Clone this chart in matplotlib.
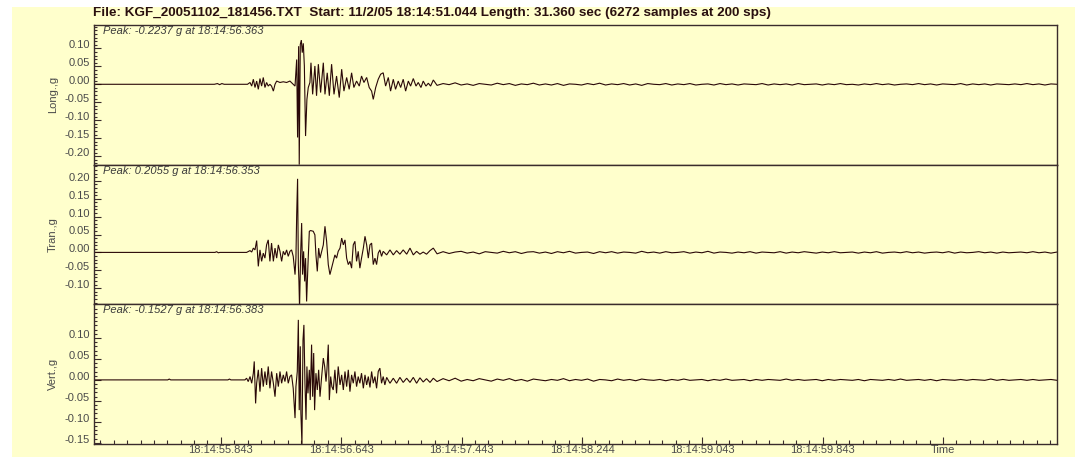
import numpy as np
import matplotlib
matplotlib.use("Agg")
import matplotlib.pyplot as plt
from matplotlib.ticker import FixedLocator, MultipleLocator
from matplotlib.patches import Rectangle

plt.rcParams["font.family"] = ["Liberation Sans", "DejaVu Sans"]

TITLE = ("File: KGF_20051102_181456.TXT  Start: 11/2/05 18:14:51.044 "
         "Length: 31.360 sec (6272 samples at 200 sps)")
CHANNELS = ["Long.,g", "Tran.,g", "Vert.,g"]
PEAK_TEXT = ["Peak: -0.2237 g at 18:14:56.363",
             "Peak: 0.2055 g at 18:14:56.353",
             "Peak: -0.1527 g at 18:14:56.383"]

# time axis: seconds after 18:14:55.000
TIME_TICKS = [0.843, 1.643, 2.443, 3.244, 4.043, 4.843, 5.643]
TIME_LABELS = ["18:14:55.843", "18:14:56.643", "18:14:57.443", "18:14:58.244",
               "18:14:59.043", "18:14:59.843", "Time"]
WINDOW = (0.0, 6.4)

Y_TICKS = [[-0.20, -0.15, -0.10, -0.05, 0.00, 0.05, 0.10],
           [-0.10, -0.05, 0.00, 0.05, 0.10, 0.15, 0.20],
           [-0.15, -0.10, -0.05, 0.00, 0.05, 0.10]]
Y_LIMITS = [(-0.2237, 0.165), (-0.145, 0.245), (-0.1527, 0.18)]

# ---- Long component: strong-motion vertices (s, g) ----
LONG_T = [0.0, 0.80, 0.82, 0.835, 0.85, 0.865, 1.02,
          1.037, 1.048, 1.059, 1.070, 1.081, 1.092, 1.103, 1.114, 1.125, 1.136,
          1.147, 1.158, 1.169, 1.180, 1.192, 1.203, 1.214, 1.236, 1.258, 1.280,
          1.302, 1.324, 1.336, 1.347, 1.353, 1.360, 1.364, 1.371, 1.378, 1.384,
          1.391, 1.398, 1.406, 1.415, 1.424, 1.435, 1.442, 1.453, 1.468, 1.479,
          1.491, 1.506, 1.524, 1.535, 1.550, 1.564, 1.579, 1.595, 1.612, 1.630,
          1.646, 1.661, 1.679, 1.696, 1.712, 1.727, 1.745, 1.763, 1.778, 1.794,
          1.812, 1.829, 1.845, 1.856, 1.872, 1.889, 1.905, 1.922, 1.938, 1.956,
          1.971, 1.989, 2.004, 2.022, 2.038, 2.055, 2.071, 2.089, 2.104, 2.122,
          2.140, 2.155, 2.173, 2.188, 2.206, 2.222, 2.237, 2.255]
LONG_G = [0.0, 0.0, 0.002, -0.001, 0.002, 0.0, 0.0,
          0.005, -0.005, 0.014, -0.009, 0.009, -0.014, 0.016, -0.005, 0.019, -0.009,
          0.005, -0.005, 0.0, -0.005, -0.019, 0.0, 0.009, 0.005, 0.007, 0.005,
          0.009, 0.0, -0.005, 0.069, -0.148, 0.106, -0.2237, 0.111, 0.123, 0.088,
          0.114, 0.051, -0.144, -0.042, -0.009, 0.005, 0.060, -0.028, 0.051, -0.032,
          0.056, -0.023, 0.060, -0.028, 0.032, -0.032, 0.056, -0.028, 0.023, -0.037,
          0.042, -0.019, 0.019, -0.014, 0.032, -0.009, 0.009, -0.005, 0.023, 0.005,
          0.019, -0.009, -0.019, -0.042, -0.009, 0.014, 0.028, 0.032, -0.005, 0.019,
          -0.019, 0.014, -0.014, 0.009, -0.009, 0.014, -0.019, 0.009, -0.005, 0.016,
          -0.005, 0.005, -0.009, 0.009, -0.005, 0.003, -0.005, 0.012]

# ---- Tran component ----
TRAN_T = [0.0, 0.804, 0.815, 0.826, 0.837, 1.014,
          1.037, 1.048, 1.059, 1.070, 1.081, 1.092, 1.103, 1.114, 1.125, 1.136,
          1.147, 1.158, 1.169, 1.180, 1.192, 1.203, 1.214, 1.225, 1.236, 1.247,
          1.258, 1.269, 1.280, 1.291, 1.302, 1.313, 1.324, 1.336, 1.342, 1.347,
          1.353, 1.358, 1.362, 1.366, 1.373, 1.380, 1.386, 1.393, 1.400, 1.406,
          1.413, 1.422, 1.431, 1.440, 1.457, 1.468, 1.475, 1.484, 1.493, 1.502,
          1.513, 1.524, 1.535, 1.546, 1.557, 1.568, 1.579, 1.590, 1.601, 1.612,
          1.623, 1.635, 1.646, 1.657, 1.668, 1.679, 1.690, 1.701, 1.712, 1.723,
          1.734, 1.745, 1.756, 1.767, 1.778, 1.790, 1.801, 1.812, 1.823, 1.834,
          1.845, 1.856, 1.867, 1.878, 1.889, 1.900, 1.911, 1.922, 1.945, 1.967,
          1.989, 2.011, 2.033, 2.055, 2.078, 2.100, 2.122, 2.144, 2.166, 2.188,
          2.210, 2.233, 2.255]
TRAN_G = [0.0, 0.0, 0.002, -0.001, 0.0, 0.0,
          0.005, 0.001, 0.012, 0.007, 0.033, -0.039, 0.007, -0.025, -0.002, -0.016,
          0.021, 0.035, -0.025, 0.026, -0.025, 0.012, -0.016, 0.021, 0.003, -0.025,
          0.003, -0.007, 0.007, -0.011, 0.003, 0.007, -0.011, -0.062, -0.016, 0.105,
          0.2055, -0.034, -0.081, -0.155, -0.007, 0.082, -0.062, 0.003, -0.081, -0.016,
          -0.137, -0.034, 0.059, 0.061, 0.059, 0.049, -0.007, -0.053, 0.012, -0.016,
          0.003, 0.021, 0.073, 0.031, -0.034, -0.062, -0.044, -0.025, -0.007, -0.016,
          0.003, 0.012, 0.040, 0.021, 0.035, -0.016, -0.034, -0.025, -0.044, 0.021,
          0.031, -0.025, 0.003, -0.044, -0.016, 0.012, 0.045, 0.021, -0.016, 0.021,
          0.026, -0.034, -0.016, -0.034, -0.002, 0.007, -0.011, 0.003, -0.007, 0.007,
          -0.007, 0.005, -0.005, 0.007, -0.005, 0.012, -0.007, 0.003, -0.005, 0.001,
          -0.005, 0.005, 0.012]

# ---- Vert component ----
VERT_T = [0.0, 0.49, 0.50, 0.51, 0.89, 0.90, 0.91, 1.003,
          1.014, 1.025, 1.037, 1.048, 1.059, 1.065, 1.074, 1.081, 1.092, 1.103,
          1.114, 1.125, 1.136, 1.147, 1.158, 1.169, 1.180, 1.192, 1.203, 1.214,
          1.225, 1.236, 1.247, 1.258, 1.269, 1.280, 1.291, 1.302, 1.313, 1.324,
          1.336, 1.342, 1.351, 1.358, 1.364, 1.371, 1.375, 1.382, 1.389, 1.395,
          1.402, 1.409, 1.415, 1.422, 1.431, 1.437, 1.446, 1.453, 1.460, 1.466,
          1.475, 1.484, 1.493, 1.502, 1.513, 1.524, 1.533, 1.542, 1.548, 1.557,
          1.564, 1.573, 1.581, 1.590, 1.601, 1.612, 1.623, 1.635, 1.646, 1.657,
          1.668, 1.679, 1.690, 1.701, 1.712, 1.723, 1.734, 1.745, 1.756, 1.767,
          1.778, 1.790, 1.801, 1.812, 1.823, 1.834, 1.845, 1.856, 1.867, 1.878,
          1.889, 1.900, 1.911, 1.922, 1.933, 1.945, 1.967, 1.989, 2.011, 2.033,
          2.055, 2.078, 2.100, 2.122, 2.144, 2.166, 2.188, 2.210, 2.233, 2.255]
VERT_G = [0.0, 0.0, 0.002, 0.0, 0.0, 0.002, 0.0, 0.0,
          0.004, -0.004, 0.008, -0.008, 0.016, 0.044, -0.056, -0.008, 0.024, -0.028,
          0.028, -0.016, 0.020, -0.012, 0.032, -0.020, 0.020, -0.008, -0.040, 0.016,
          -0.016, 0.020, -0.008, 0.012, -0.004, 0.020, -0.008, 0.008, 0.012, -0.020,
          -0.091, -0.016, 0.020, 0.143, -0.072, 0.080, -0.080, -0.1527, 0.095, 0.131,
          -0.008, -0.095, 0.032, -0.032, 0.024, -0.048, 0.084, -0.040, 0.064, -0.072,
          0.016, -0.024, 0.024, -0.040, 0.008, 0.052, 0.032, -0.004, 0.024, 0.084,
          -0.048, 0.008, -0.016, -0.024, 0.024, -0.032, 0.032, -0.012, 0.012, -0.024,
          0.020, -0.016, 0.024, -0.028, 0.012, -0.008, 0.020, -0.016, 0.008, -0.008,
          0.016, -0.020, 0.012, -0.012, 0.008, -0.018, 0.020, -0.008, 0.008, -0.020,
          0.020, 0.028, -0.008, 0.008, -0.012, 0.006, -0.008, 0.004, -0.008, 0.006,
          -0.006, 0.004, -0.006, 0.006, -0.008, 0.005, -0.005, 0.003, -0.006, 0.004]

# ---- coda: samples every 0.04 s from 2.28 s, in milli-g ----
CODA_START = 2.28
CODA_STEP = 0.04
LONG_CODA_MG = [-3, 2, -1, 4, -2, 1, -3, 2, 0, -2,
                3, -1, 2, -3, 1, -1, 3, -2, 1, -2,
                2, -3, 1, 0, -2, 2, -1, 3, -2, 1,
                -1, 2, -2, 1, -3, 2, 0, -1, 2, -2,
                1, -1, 2, -2, 0, 1, -2, 2, -1, 1,
                -2, 1, 0, -1, 2, -2, 1, -1, 1, -2,
                2, -1, 0, 1, -2, 1, -1, 2, -1, 0,
                -2, 1, -1, 2, -1, 1, -2, 0, 1, -1,
                2, -1, 1, -2, 1, 0, -1, 2, -2, 1,
                -1, 1, -2, 1, 0, -1, 1, -1, 2, -1,
                1, -2, 1, 0]
TRAN_CODA_MG = [-4, 2, -3, 1, 3, -2, 1, -4, 2, 0,
                -2, 3, -1, 2, -3, 1, 2, -2, 1, -3,
                2, -1, 3, -2, 0, 1, -3, 2, -1, 2,
                -2, 1, 0, -2, 3, -1, 1, -2, 2, -1,
                0, 2, -2, 1, -1, 3, -2, 1, 0, -2,
                1, -1, 2, -2, 1, 0, -1, 2, -2, 1,
                -1, 2, 0, -2, 1, -1, 2, -1, 0, 1,
                -2, 1, -1, 2, -2, 0, 1, -1, 2, -1,
                1, -2, 0, 1, -1, 2, -2, 1, -1, 0,
                2, -1, 1, -2, 1, -1, 0, 1, -1, 2,
                -1, 1, -2, 1]
VERT_CODA_MG = [-4, 3, -2, 4, -3, 1, -2, 3, 0, -3,
                2, -1, 3, -2, 1, -3, 2, 0, -2, 1,
                -1, 3, -2, 1, -1, 2, -3, 1, 0, -2,
                2, -1, 1, -2, 2, 0, -1, 1, -2, 1,
                -1, 2, -1, 0, 1, -2, 1, -1, 2, -1,
                0, 1, -2, 1, -1, 1, 0, -1, 2, -1,
                1, -1, 0, 1, -2, 1, -1, 1, 0, -1,
                1, -2, 1, 0, -1, 1, -1, 2, -1, 0,
                1, -1, 1, -2, 1, 0, -1, 1, -1, 1,
                0, -1, 2, -1, 1, -1, 0, 1, -1, 1,
                -1, 0, 1, -1]

TRACES = [(LONG_T, LONG_G, LONG_CODA_MG),
          (TRAN_T, TRAN_G, TRAN_CODA_MG),
          (VERT_T, VERT_G, VERT_CODA_MG)]

# ---------------- drawing ----------------
W, H = 1075, 457
BG = "#ffffcc"
TRACE_C = "#2a0808"
AX_C = "#3a2c2c"
TXT_C = "#4a4a4a"

fig = plt.figure(figsize=(W / 100, H / 100), dpi=100, facecolor="white")
fig.patches.append(Rectangle((12 / W, 0), 1 - 12 / W, 1 - 7 / H,
                             transform=fig.transFigure, facecolor=BG,
                             edgecolor="none", zorder=-10))

left, right = 94 / W, 1057 / W
top, bottom = 1 - 25 / H, 1 - 444 / H
ph = (top - bottom) / 3

for i, (tt, gg, coda) in enumerate(TRACES):
    ax = fig.add_axes([left, top - (i + 1) * ph, right - left, ph])
    ax.set_facecolor(BG)
    coda_t = CODA_START + CODA_STEP * np.arange(len(coda))
    t = np.concatenate([tt, coda_t])
    g = np.concatenate([gg, np.array(coda) / 1000.0])
    ax.plot(t, g, color=TRACE_C, lw=0.8, solid_joinstyle="miter")
    ax.set_xlim(*WINDOW)
    ax.set_ylim(*Y_LIMITS[i])
    for s in ax.spines.values():
        s.set_color(AX_C)
        s.set_linewidth(1.0)
    ax.set_yticks(Y_TICKS[i])
    ax.set_yticklabels([f"{v:.2f}" for v in Y_TICKS[i]])
    ax.yaxis.set_minor_locator(MultipleLocator(0.01))
    ax.tick_params(axis="y", which="major", direction="in", length=5,
                   width=0.8, color=AX_C, labelsize=8, labelcolor=TXT_C, pad=3)
    ax.tick_params(axis="y", which="minor", direction="in", length=2.5,
                   width=0.8, color=AX_C)
    for lab in ax.get_yticklabels():
        lab.set_verticalalignment("baseline")
    ax.set_ylabel(CHANNELS[i], fontsize=8, color=TXT_C)
    ax.yaxis.set_label_coords(-36 / (right - left) / W, 0.5)
    ax.text(9 / ((right - left) * W), 1 - 6 / (ph * H), PEAK_TEXT[i],
            transform=ax.transAxes, fontsize=8, style="italic",
            color="#3a3a3a", va="center", ha="left")
    if i < 2:
        ax.tick_params(axis="x", which="both", bottom=False, labelbottom=False)
    else:
        ax.xaxis.set_major_locator(FixedLocator(TIME_TICKS))
        ax.set_xticklabels(TIME_LABELS)
        minor = TIME_TICKS[0] - 0.8 + (0.8 / 9) * np.arange(0, 80)
        ax.xaxis.set_minor_locator(FixedLocator(minor[minor <= WINDOW[1]]))
        ax.tick_params(axis="x", which="major", direction="in", length=5,
                       width=0.8, color=AX_C, labelsize=8, labelcolor=TXT_C, pad=1)
        ax.tick_params(axis="x", which="minor", direction="in", length=3,
                       width=0.8, color=AX_C)

fig.text(93 / W, 1 - 13 / H, TITLE, fontsize=9.7, fontweight="bold",
         color="#2a1010", va="center", ha="left")

fig.savefig("out.png", dpi=100, facecolor="white")
